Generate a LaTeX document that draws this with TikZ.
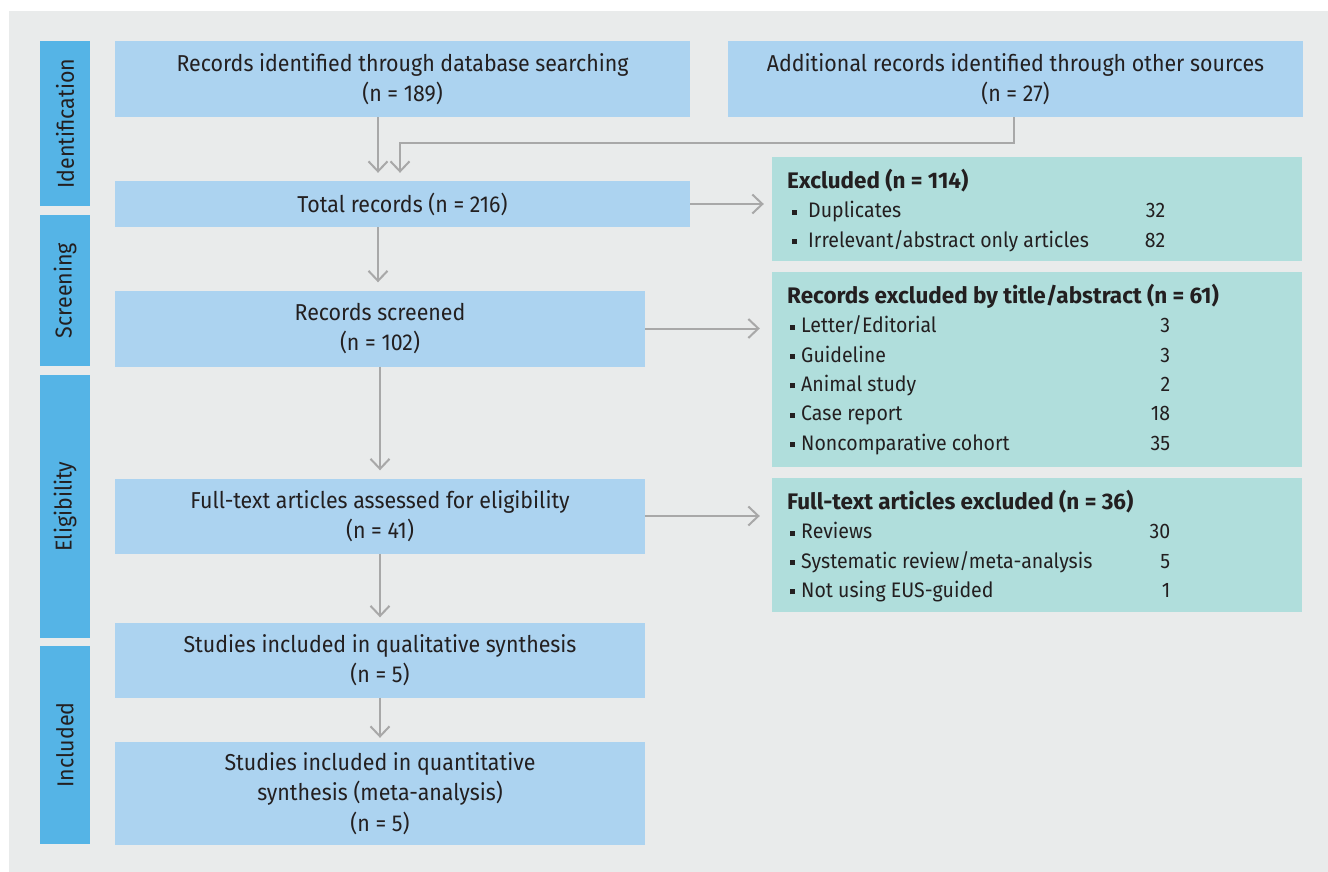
\documentclass[tikz,border=0pt]{standalone}
\usepackage{fontspec}
\setmainfont{Fira Sans}[FakeStretch=0.93]
\newfontfamily\headfont{Fira Sans Bold}[FakeStretch=1.0]
\usetikzlibrary{arrows.meta}
\definecolor{bgc}{RGB}{233,235,235}
\definecolor{boxblue}{RGB}{172,211,240}
\definecolor{barblue}{RGB}{85,180,230}
\definecolor{teal}{RGB}{176,222,220}
\definecolor{arrgray}{RGB}{168,168,168}
\definecolor{txt}{RGB}{35,31,32}
\newcommand\sqb{\rule[0.28ex]{5pt}{5pt}}
\newcommand\hd[1]{{\headfont\fontsize{22.5}{29.3}\selectfont #1}}
\newcommand\rowA[2]{\makebox[378pt][l]{\hspace{5pt}\sqb\hspace{11pt}#1\hfill#2}}
\newcommand\rowB[2]{\makebox[383pt][l]{\hspace{3pt}\sqb\hspace{6pt}#1\hfill#2}}
\begin{document}
\begin{tikzpicture}[x=1pt,y=-1pt,
  every node/.style={text=txt},
  mainbox/.style={fill=boxblue, inner sep=0, align=center, font=\fontsize{23}{30.5}\selectfont},
  sidebar/.style={fill=barblue, inner sep=0, minimum width=50pt},
  sidelabel/.style={rotate=90, font=\fontsize{23}{25}\selectfont},
  exbox/.style={fill=teal, inner sep=0, minimum width=530pt},
  extext/.style={anchor=north west, inner sep=0, align=left, font=\fontsize{21}{29.3}\selectfont},
  arr/.style={draw=arrgray, line width=2pt, -{Straight Barb[length=10pt,width=19pt,line width=2pt]}}
]
\useasboundingbox (0,0) rectangle (1328,872);
\fill[white] (0,0) rectangle (1328,872);
\fill[bgc] (9,11) rectangle (1328,872);

% side bars
\node[sidebar, minimum height=165pt] (sid) at (65,123.5) {};
\node[sidebar, minimum height=151pt] (ssc) at (65,290.5) {};
\node[sidebar, minimum height=263pt] (sel) at (65,506.5) {};
\node[sidebar, minimum height=198pt] (sin) at (65,745) {};
\node[sidelabel] (lid) at (sid.center) {Identification};
\node[sidelabel] (lsc) at (ssc.center) {Screening};
\node[sidelabel] (lel) at (sel.center) {Eligibility};
\node[sidelabel] (lin) at (sin.center) {Included};

% main boxes
\node[mainbox, minimum width=575pt, minimum height=76pt] (db) at (402.5,79)
  {Records identified through database searching\\(n = 189)};
\node[mainbox, minimum width=575pt, minimum height=76pt] (other) at (1015.5,79)
  {Additional records identified through other sources\\(n = 27)};
\node[mainbox, minimum width=575pt, minimum height=46pt] (total) at (402.5,204)
  {Total records (n = 216)};
\node[mainbox, minimum width=530pt, minimum height=76pt] (scr) at (380,328.5)
  {Records screened\\(n = 102)};
\node[mainbox, minimum width=530pt, minimum height=75pt] (full) at (380,516)
  {Full-text articles assessed for eligibility\\(n = 41)};
\node[mainbox, minimum width=530pt, minimum height=75pt] (qual) at (380,660)
  {Studies included in qualitative synthesis\\(n = 5)};
\node[mainbox, minimum width=530pt, minimum height=103pt] (quant) at (380,793.5)
  {Studies included in quantitative\\synthesis (meta-analysis)\\(n = 5)};

% exclusion boxes
\node[exbox, minimum height=104pt] (ex1) at (1037,209) {};
\node[exbox, minimum height=195pt] (ex2) at (1037,369.5) {};
\node[exbox, minimum height=134pt] (ex3) at (1037,545) {};
\node[extext] (t1) at (787,169)
  {\hd{Excluded (n = 114)}\\
   \rowA{Duplicates}{32}\\
   \rowA{Irrelevant/abstract only articles}{82}};
\node[extext] (t2) at (787,284)
  {\hd{Records excluded by title/abstract (n = 61)}\\
   \rowB{Letter/Editorial}{3}\\
   \rowB{Guideline}{3}\\
   \rowB{Animal study}{2}\\
   \rowB{Case report}{18}\\
   \rowB{Noncomparative cohort}{35}};
\node[extext] (t3) at (787,490)
  {\hd{Full-text articles excluded (n = 36)}\\
   \rowB{Reviews}{30}\\
   \rowB{Systematic review/meta-analysis}{5}\\
   \rowB{Not using EUS-guided}{1}};

% connectors
\coordinate (xa) at (378,0);
\coordinate (xb) at (400,0);
\coordinate (xo) at (1014,0);
\coordinate (jn) at (400,143);
\draw[arr, shorten >=8pt] (db.south -| xa) -- (total.north -| xa);
\draw[arr, shorten >=8pt] (other.south -| xo) |- (jn) -- (total.north -| xb);
\draw[arr, shorten >=8pt] (total.south -| xa) -- (scr.north -| xa);
\draw[arr, shorten >=8pt] (scr.south) -- (full.north);
\draw[arr, shorten >=5pt] (full.south) -- (qual.north);
\draw[arr, shorten >=4pt] (qual.south) -- (quant.north);
\draw[arr, shorten >=8pt] (total.east) -- (total.east -| ex1.west);
\draw[arr, shorten >=12pt] (scr.east) -- (scr.east -| ex2.west);
\draw[arr, shorten >=12pt] (full.east) -- (full.east -| ex3.west);
\end{tikzpicture}
\end{document}
